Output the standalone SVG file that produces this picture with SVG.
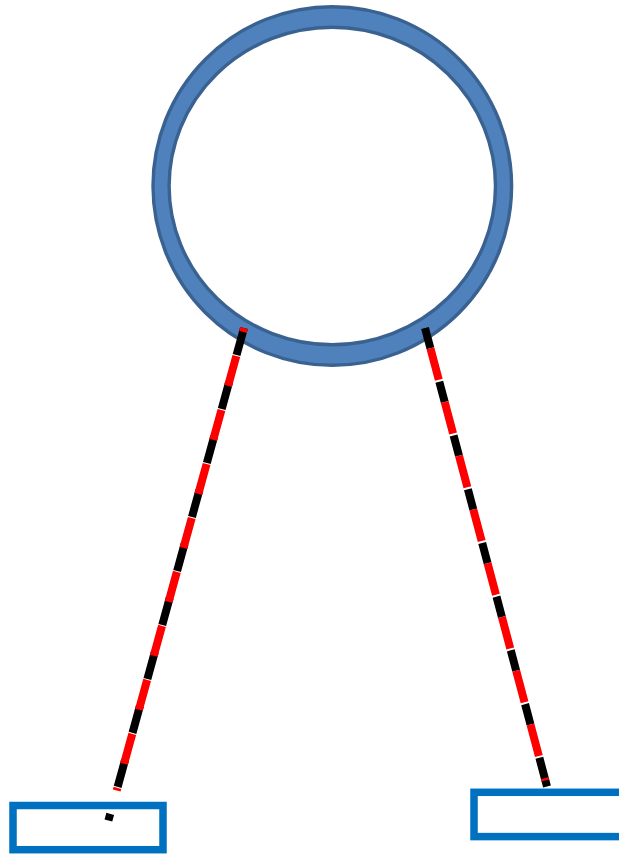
<svg xmlns="http://www.w3.org/2000/svg" width="619" height="854" viewBox="0 0 619 854">
<style>
.ring{fill:#4F81BD;stroke:#3A6291;stroke-width:3.4;fill-rule:evenodd}
.box{fill:#FFFFFF;stroke:#0070C0;stroke-width:7.5}
.blk{stroke:#000000;stroke-width:8;fill:none}
.red{stroke:#FF0000;stroke-width:8;fill:none}
</style>
<rect width="619" height="854" fill="#FFFFFF"/>
<g id="ring">
<path class="ring" d="M153,186 A179.3,179.3 0 1,0 511.6,186 A179.3,179.3 0 1,0 153,186 Z M169.1,186 A163.2,158.7 0 1,1 495.5,186 A163.2,158.7 0 1,1 169.1,186 Z"/>
</g>
<g id="box-left">
<rect class="box" x="13" y="805.5" width="150" height="44.2"/>
</g>
<g id="box-right">
<rect class="box" x="474" y="792.3" width="170" height="44.3"/>
</g>
<g id="connectors">
<line class="blk" x1="244" y1="328" x2="108.4" y2="820.5" stroke-dasharray="28 28"/>
<line class="red" x1="244" y1="328" x2="116.7" y2="790.5" stroke-dasharray="31 25" stroke-dashoffset="27"/>
<line class="blk" x1="425" y1="328" x2="547" y2="786.5" stroke-dasharray="21 34.6 21 34.6 21 34.6 21 34.6 21 34.6 21 34.6 21 34.6 21 34.6 30 100"/>
<line class="red" x1="425" y1="328" x2="545.4" y2="780.5" stroke-dasharray="32.6 23" stroke-dashoffset="34.6"/>
</g>
</svg>
